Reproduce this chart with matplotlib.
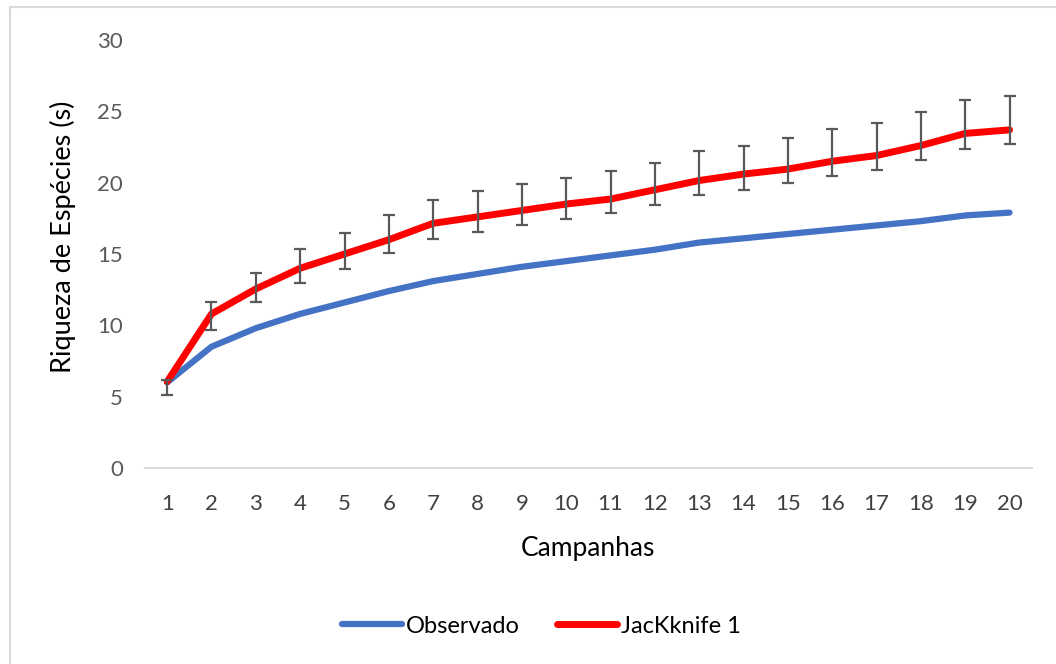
import matplotlib
matplotlib.use('Agg')
import matplotlib.pyplot as plt
from matplotlib.patches import Rectangle
import numpy as np

plt.rcParams['font.family'] = ['Lato', 'DejaVu Sans']

# Data
campanhas = list(range(1, 21))
observado = [6.0, 8.5, 9.8, 10.8, 11.6, 12.4, 13.1, 13.6, 14.1, 14.5,
             14.9, 15.3, 15.8, 16.1, 16.4, 16.7, 17.0, 17.3, 17.7, 17.9]
jackknife = [6.05, 10.8, 12.55, 14.0, 15.0, 16.0, 17.15, 17.6, 18.05, 18.5,
             18.85, 19.5, 20.15, 20.6, 20.95, 21.5, 21.9, 22.6, 23.45, 23.7]
# error bar ends (absolute values)
jack_upper = [6.2, 11.65, 13.7, 15.35, 16.5, 17.7, 18.8, 19.4, 19.9, 20.3,
              20.8, 21.35, 22.2, 22.6, 23.15, 23.75, 24.15, 24.95, 25.8, 26.1]
jack_lower = [5.15, 9.7, 11.6, 13.0, 13.95, 15.05, 16.05, 16.55, 17.0, 17.45,
              17.85, 18.45, 19.15, 19.5, 20.0, 20.45, 20.9, 21.6, 22.35, 22.7]
y_ticks = [0, 5, 10, 15, 20, 25, 30]

jk = np.array(jackknife)
yerr = [jk - np.array(jack_lower), np.array(jack_upper) - jk]

fig = plt.figure(figsize=(10.56, 6.64), dpi=100)
ax = fig.add_axes([0.1373, 0.2952, 0.8397, 0.6446])

ax.plot(campanhas, observado, color='#4472C4', linewidth=4.5,
        solid_capstyle='round', label='Observado', zorder=3)
ax.plot(campanhas, jackknife, color='#FF0000', linewidth=5,
        solid_capstyle='round', label='JacKknife 1', zorder=4)
ax.errorbar(campanhas, jackknife, yerr=yerr, fmt='none', ecolor='#595959',
            elinewidth=1.6, capsize=4.5, capthick=1.6, zorder=5)

ax.set_xlim(0.5, 20.5)
ax.set_ylim(0, 30)
ax.set_xticks(campanhas)
ax.set_yticks(y_ticks)
ax.tick_params(axis='y', length=0, pad=16, labelsize=16, labelcolor='#595959')
ax.tick_params(axis='x', length=0, pad=19, labelsize=16, labelcolor='#404040')

for s in ['top', 'right', 'left']:
    ax.spines[s].set_visible(False)
ax.spines['bottom'].set_color('#d9d9d9')
ax.spines['bottom'].set_linewidth(1.5)

ax.set_xlabel('Campanhas', fontsize=19, color='#000000', va='center')
ax.xaxis.set_label_coords(0.5, -0.187)
ax.set_ylabel('Riqueza de Espécies (s)', fontsize=19.5, color='#000000', va='center')
ax.yaxis.set_label_coords(-0.0924, 0.54)

fig.legend(loc='center', bbox_to_anchor=(0.5128, 0.0572), ncol=2, frameon=False,
           fontsize=17, handlelength=2.55, handletextpad=0.17, columnspacing=1.57)

# chart area border
fig.patches.append(Rectangle((0.0095, -0.1), 1.2, 1.0895, transform=fig.transFigure,
                             fill=False, edgecolor='#d9d9d9', linewidth=1.5))

fig.savefig('out.png', dpi=100)
